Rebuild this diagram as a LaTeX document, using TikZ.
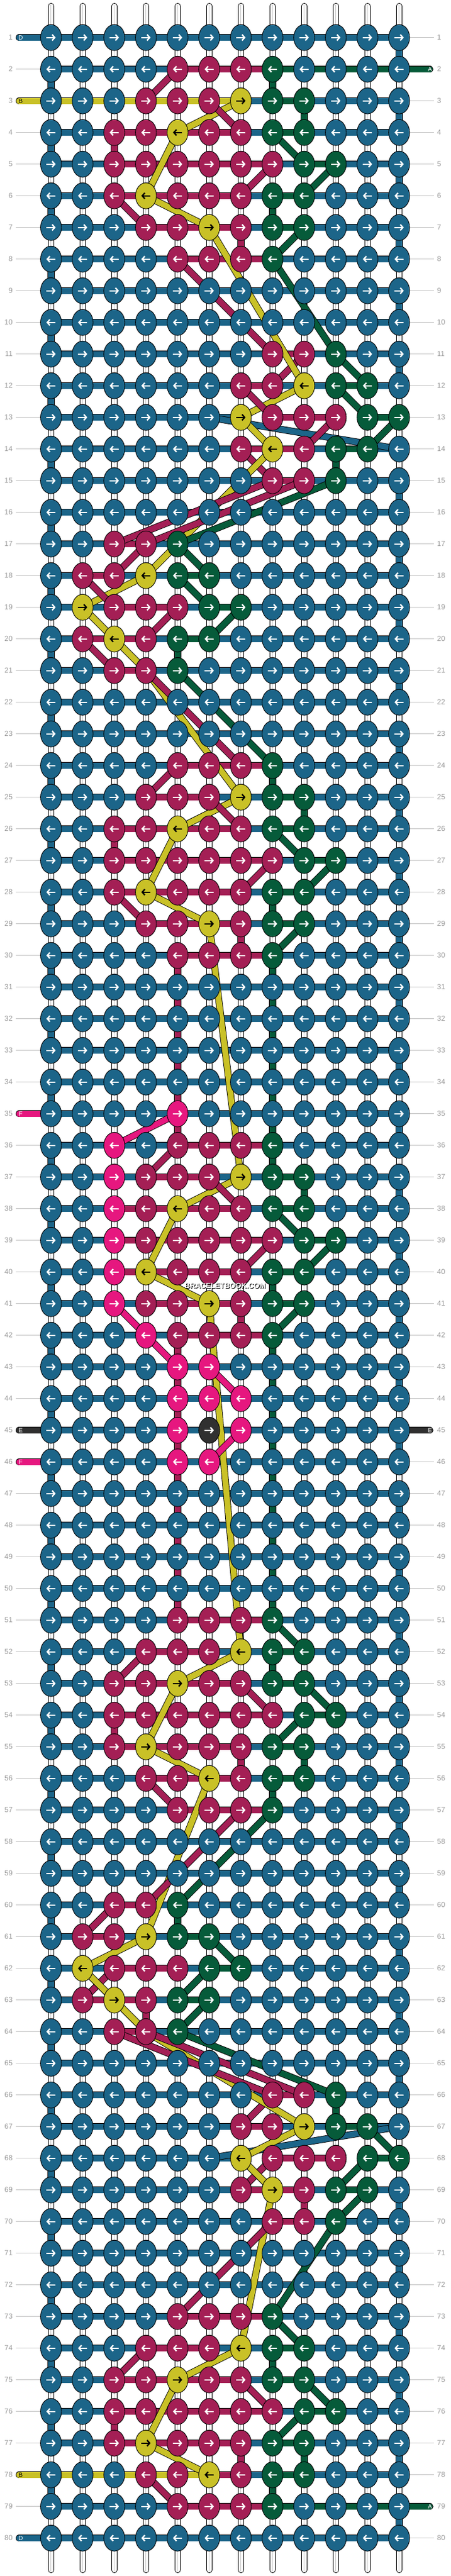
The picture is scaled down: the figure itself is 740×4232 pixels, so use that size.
\documentclass[tikz,border=0pt]{standalone}
\usepackage{fontspec}
\setmainfont{Liberation Sans}
\usetikzlibrary{shapes.geometric,arrows.meta}
\definecolor{cb}{HTML}{1C6589}
\definecolor{cm}{HTML}{A41F55}
\definecolor{cy}{HTML}{C9C127}
\definecolor{cg}{HTML}{065B3A}
\definecolor{cp}{HTML}{E6177F}
\definecolor{ck}{HTML}{303030}
\definecolor{labgray}{HTML}{9A9A9A}
\definecolor{linegray}{HTML}{C2C2C2}
\definecolor{strgray}{HTML}{C8C8C8}
\pgfdeclarelayer{bg}
\pgfdeclarelayer{mid}
\pgfsetlayers{bg,mid,main}

\newcommand\setrow[3]{\expandafter\def\csname rowk#1\endcsname{#2}\expandafter\def\csname rows#1\endcsname{#3}}
\newcommand\copyrow[2]{\expandafter\let\csname rowk#1\expandafter\endcsname\csname rowk#2\endcsname\expandafter\let\csname rows#1\expandafter\endcsname\csname rows#2\endcsname}

% ---- knot colours (12) / horizontal segment colours (11) per row ----
\setrow{1}{bbbbbbbbbbbb}{bbbbbbbbbbb}
\setrow{2}{bbbbmmmgbbbb}{bbbbmmmgggg}
\setrow{3}{bbbmmmyggbbb}{yyyyyybgbbb}
\setrow{4}{bbmmymmggbbb}{bbmmmmbgbbb}
\setrow{5}{bbmmmmmmggbb}{bbmmmmmbgbb}
\setrow{6}{bbmymmmggbbb}{bbmmmmbgbbb}
\setrow{7}{bbbmmymggbbb}{bbbmmmbgbbb}
\setrow{8}{bbbbmmmgbbbb}{bbbbmmmbbbb}
\setrow{9}{bbbbbbbbbbbb}{bbbbbbbbbbb}
\copyrow{10}{9}
\setrow{11}{bbbbbbbmmgbb}{bbbbbbbmbbb}
\setrow{12}{bbbbbbmmyggb}{bbbbbbmbbgb}
\setrow{13}{bbbbbbymmmgg}{bbbbbbnmmng}
\setrow{14}{bbbbbbmymggb}{bbbbbbmmbgb}
\setrow{15}{bbbbbbbmmgbb}{bbbbbbbmbbb}
\copyrow{16}{9}
\setrow{17}{bbmmgbbbbbbb}{bbmbbbbbbbb}
\setrow{18}{bmmyggbbbbbb}{bmbbgbbbbbb}
\setrow{19}{bymmmggbbbbb}{bbmmbgbbbbb}
\setrow{20}{bmymggbbbbbb}{bmmbgbbbbbb}
\setrow{21}{bbmmgbbbbbbb}{bbmbbbbbbbb}
\copyrow{22}{9}
\copyrow{23}{9}
\setrow{24}{bbbbmmmgbbbb}{bbbbmmmbbbb}
\setrow{25}{bbbmmmyggbbb}{bbbmmbbgbbb}
\setrow{26}{bbmmymmggbbb}{bbmmmmbgbbb}
\setrow{27}{bbmmmmmmggbb}{bbmmmmmbgbb}
\setrow{28}{bbmymmmggbbb}{bbmmmmbgbbb}
\setrow{29}{bbbmmymggbbb}{bbbmmmbgbbb}
\setrow{30}{bbbbmmmgbbbb}{bbbbmmmbbbb}
\copyrow{31}{9}
\copyrow{32}{9}
\copyrow{33}{9}
\copyrow{34}{9}
\setrow{35}{bbbbpbbbbbbb}{bbbbbbbbbbb}
\setrow{36}{bbpbmmmgbbbb}{bbbbmmmbbbb}
\setrow{37}{bbpmmmyggbbb}{bbbmmbbgbbb}
\setrow{38}{bbpmymmggbbb}{bbmmmmbgbbb}
\setrow{39}{bbpmmmmmggbb}{bbmmmmmbgbb}
\setrow{40}{bbpymmmggbbb}{bbmmmmbgbbb}
\setrow{41}{bbpmmymggbbb}{bbbmmmbgbbb}
\setrow{42}{bbbpmmmgbbbb}{bbbbmmmbbbb}
\setrow{43}{bbbbppbbbbbb}{bbbbbbbbbbb}
\setrow{44}{bbbbpppbbbbb}{bbbbbbbbbbb}
\setrow{45}{bbbbpkpbbbbb}{bbbbbbbbbbb}
\setrow{46}{bbbbppbbbbbb}{bbbbbbbbbbb}
\copyrow{47}{9}
\copyrow{48}{9}
\copyrow{49}{9}
\copyrow{50}{9}
\copyrow{51}{24}
\copyrow{52}{25}
\copyrow{53}{26}
\copyrow{54}{27}
\copyrow{55}{28}
\copyrow{56}{29}
\copyrow{57}{30}
\copyrow{58}{9}
\copyrow{59}{9}
\copyrow{60}{17}
\copyrow{61}{18}
\copyrow{62}{19}
\copyrow{63}{20}
\copyrow{64}{21}
\copyrow{65}{9}
\copyrow{66}{11}
\copyrow{67}{12}
\copyrow{68}{13}
\copyrow{69}{14}
\copyrow{70}{15}
\copyrow{71}{9}
\copyrow{72}{9}
\copyrow{73}{24}
\copyrow{74}{25}
\copyrow{75}{26}
\copyrow{76}{27}
\setrow{77}{bbmymmmggbbb}{bbmmmmbgbbb}
\setrow{78}{bbbmmymggbbb}{yyyyymbgbbb}
\setrow{79}{bbbbmmmgbbbb}{bbbbmmmgggg}
\copyrow{80}{9}

\newcount\cidx
\def\currow{1}
\def\knotiter#1{\ifx#1\relax\else\global\advance\cidx by 1\relax\drawknot{#1}\expandafter\knotiter\fi}
\def\drawknot#1{%
  \edef\cc{\the\cidx}%
  \pgfmathsetmacro\kx{83.8+52*(\cc-1)}%
  \node[knot,fill=c#1] (k-\currow-\cc) at (\kx,\ky) {};%
  \if#1y\def\arcol{black}\else\def\arcol{white}\fi
  \ifodd\currow\relax
    \draw[arr,draw=\arcol] (\kx-7.6,\ky) -- (\kx+7.6,\ky);%
  \else
    \draw[arr,draw=\arcol] (\kx+7.6,\ky) -- (\kx-7.6,\ky);%
  \fi}
\def\segiter#1{\ifx#1\relax\else\global\advance\cidx by 1\relax\drawseg{#1}\expandafter\segiter\fi}
\def\drawseg#1{\if#1n\else\edef\ca{\the\cidx}\pgfmathtruncatemacro\cbb{\the\cidx+1}\draw[seg=c#1] (k-\currow-\ca.center) -- (k-\currow-\cbb.center);\fi}
\newcommand\diag[5]{\draw[seg=c#1] (k-#2-#3.center) -- (k-#4-#5.center);}
\newcommand\diagoff[6]{\pgfmathtruncatemacro\ra{#3+#1}\pgfmathtruncatemacro\rb{#5+#1}\draw[seg=c#2] (k-\ra-#4.center) -- (k-\rb-#6.center);}
\newcommand\vseg[3]{\pgfmathtruncatemacro\rn{#2+1}\draw[seg=c#1] (k-#2-#3.center) -- (k-\rn-#3.center);}
\newcommand\vsegoff[4]{\pgfmathtruncatemacro\ra{#3+#1}\vseg{#2}{\ra}{#4}}

\begin{document}
\begin{tikzpicture}[x=1pt,y=-1pt,
  knot/.style={ellipse,draw=black,line width=0.9pt,minimum width=34.4pt,minimum height=42.8pt,inner sep=0pt,outer sep=0pt},
  arr/.style={line width=2.3pt,-{Straight Barb[length=4.2pt,width=9.6pt]}},
  seg/.style={draw=black,line width=0.9pt,double=#1,double distance=9.6pt},
  stub/.style={draw=black,line width=0.9pt,double=#1,double distance=9.6pt,line cap=round},
  rowlab/.style={text=labgray,font=\fontsize{12}{12}\selectfont,inner sep=0pt},
  stublab/.style={font=\fontsize{10}{10}\selectfont,inner sep=0pt}]
\useasboundingbox (0,0) rectangle (740,4232);
% knots
\foreach \r in {1,...,80}{%
  \pgfmathsetmacro\ky{61.7+52*(\r-1)}%
  \xdef\currow{\r}%
  \global\cidx=0\relax
  \edef\kstr{\csname rowk\r\endcsname}%
  \expandafter\knotiter\kstr\relax
}
\begin{pgfonlayer}{bg}
% white strings
\foreach \c in {1,...,12}{%
  \pgfmathsetmacro\vx{83.8+52*(\c-1)}%
  \draw[line width=10.2pt,line cap=round,black] (\vx,10) -- (\vx,4222);
  \draw[line width=8.4pt,line cap=round,white] (\vx,10) -- (\vx,4222);
  \draw[line width=0.7pt,strgray] (\vx,8) -- (\vx,4224);
}
% row labels
\foreach \r in {1,...,80}{%
  \pgfmathsetmacro\ky{61.7+52*(\r-1)}%
  \draw[linegray,line width=0.8pt] (26,\ky) -- (67,\ky);
  \draw[linegray,line width=0.8pt] (673,\ky) -- (713,\ky);
  \node[rowlab,anchor=east] (nl-\r) at (21,\ky) {\r};
  \node[rowlab,anchor=west] (nr-\r) at (718,\ky) {\r};
}
% horizontal segments
\foreach \r in {1,...,80}{%
  \xdef\currow{\r}%
  \global\cidx=0\relax
  \edef\sstr{\csname rows\r\endcsname}%
  \expandafter\segiter\sstr\relax
}
% turning thread D at the edges
\foreach \r in {1,...,12,14,15,...,66,68,69,...,79}{%
  \ifodd\r\relax\vseg{b}{\r}{12}\else\vseg{b}{\r}{1}\fi
}
% coloured vertical segments: upper diamonds
\foreach \o in {0,22}{%
  \vsegoff{\o}{g}{2}{8}\vsegoff{\o}{g}{3}{9}\vsegoff{\o}{m}{4}{3}\vsegoff{\o}{g}{6}{8}\vsegoff{\o}{m}{7}{7}}
% centre diamond
\foreach \cl/\r/\c in {g/36/8,g/37/9,g/40/8,m/41/7,g/14/10,g/20/5}{\vseg{\cl}{\r}{\c}}
% long straight runs
\foreach \r in {30,...,35,42,43,...,50}{\vseg{m}{\r}{5}\vseg{g}{\r}{8}}
% lower diamonds (mirrored)
\foreach \o in {51,73}{%
  \vsegoff{\o}{g}{5}{8}\vsegoff{\o}{g}{4}{9}\vsegoff{\o}{m}{3}{3}\vsegoff{\o}{g}{1}{8}\vsegoff{\o}{m}{4}{7}}
\vseg{g}{60}{5}\vseg{m}{63}{4}
\vseg{g}{66}{10}\vseg{m}{69}{9}
% thread ends
\foreach \r/\cl/\lt/\tc in {1/b/D/white,3/y/B/black,80/b/D/white,78/y/B/black,35/p/F/white,45/k/E/white,46/p/F/white}{%
  \pgfmathsetmacro\ky{61.7+52*(\r-1)}%
  \coordinate (sl-\r) at (31.5,\ky);
  \draw[stub=c\cl] (sl-\r) -- (k-\r-1.center);
  \node[stublab,text=\tc] (tl-\r) at (34,\ky) {\lt};
}
\foreach \r/\cl/\lt/\tc in {2/g/A/white,79/g/A/white,45/k/E/white}{%
  \pgfmathsetmacro\ky{61.7+52*(\r-1)}%
  \coordinate (sr-\r) at (706,\ky);
  \draw[stub=c\cl] (k-\r-12.center) -- (sr-\r);
  \node[stublab,text=\tc] (tr-\r) at (706.5,\ky) {\lt};
}
\end{pgfonlayer}
\begin{pgfonlayer}{mid}
% upper diamond motifs and centre diamond
\foreach \o in {0,22,34}{%
  \diagoff{\o}{m}{2}{5}{3}{4}
  \diagoff{\o}{y}{3}{7}{4}{5}
  \diagoff{\o}{m}{3}{6}{4}{7}
  \diagoff{\o}{g}{4}{8}{5}{9}
  \diagoff{\o}{y}{4}{5}{6}{4}
  \diagoff{\o}{m}{5}{8}{6}{7}
  \diagoff{\o}{g}{5}{10}{6}{9}
  \diagoff{\o}{y}{6}{4}{7}{6}
  \diagoff{\o}{g}{7}{9}{8}{8}
}
\diag{m}{6}{3}{7}{4}
\diag{m}{28}{3}{29}{4}
% lower diamond motifs (mirrored threads)
\foreach \o in {51,73}{%
  \diagoff{\o}{m}{6}{5}{5}{4}
  \diagoff{\o}{g}{4}{8}{3}{9}
  \diagoff{\o}{m}{3}{8}{2}{7}
  \diagoff{\o}{g}{3}{10}{2}{9}
  \diagoff{\o}{m}{2}{3}{1}{4}
  \diagoff{\o}{g}{1}{9}{0}{8}
  \diagoff{\o}{y}{1}{7}{2}{5}
  \diagoff{\o}{y}{2}{5}{4}{4}
  \diagoff{\o}{y}{4}{4}{5}{6}
}
% upper right motif
\diag{m}{11}{9}{12}{8}
\diag{g}{11}{10}{12}{11}
\diag{y}{12}{9}{13}{7}
\diag{m}{12}{7}{13}{8}
\diag{g}{12}{10}{13}{11}
\diag{b}{13}{6}{14}{12}
\diag{m}{13}{10}{14}{9}
\diag{g}{13}{12}{14}{11}
\diag{y}{13}{7}{14}{8}
\diag{m}{14}{7}{15}{8}
% lower right motif
\diagoff{66}{g}{4}{10}{3}{11}
\diagoff{66}{m}{3}{7}{2}{8}
\diagoff{66}{g}{3}{10}{2}{11}
\diagoff{66}{b}{2}{6}{1}{12}
\diagoff{66}{g}{2}{12}{1}{11}
\diagoff{66}{m}{1}{7}{0}{8}
\diagoff{66}{y}{1}{9}{2}{7}
\diagoff{66}{y}{2}{7}{3}{8}
% upper left motif
\diag{g}{17}{5}{18}{6}
\diag{m}{17}{4}{18}{3}
\diag{y}{18}{4}{19}{2}
\diag{m}{18}{2}{19}{3}
\diag{g}{18}{5}{19}{6}
\diag{m}{19}{5}{20}{4}
\diag{g}{19}{7}{20}{6}
\diag{y}{19}{2}{20}{3}
\diag{m}{20}{2}{21}{3}
\diag{y}{20}{3}{21}{4}
% lower left motif
\diagoff{60}{g}{4}{5}{3}{6}
\diagoff{60}{m}{3}{2}{2}{3}
\diagoff{60}{g}{3}{5}{2}{6}
\diagoff{60}{g}{2}{7}{1}{6}
\diagoff{60}{m}{1}{2}{0}{3}
\diagoff{60}{y}{1}{4}{2}{2}
\diagoff{60}{y}{2}{2}{3}{3}
\diagoff{60}{y}{3}{3}{4}{4}
% links between motifs
\diag{y}{7}{6}{12}{9}
\diag{m}{8}{5}{11}{8}
\diag{g}{8}{8}{11}{10}
\diag{y}{14}{8}{18}{4}
\diag{m}{15}{8}{17}{3}
\diag{m}{15}{9}{17}{4}
\diag{g}{15}{10}{17}{5}
\diag{y}{21}{4}{25}{7}
\diag{m}{21}{4}{24}{7}
\diag{g}{21}{5}{24}{8}
\diag{y}{29}{6}{37}{7}
\diag{y}{41}{6}{52}{7}
\diag{y}{56}{6}{61}{4}
\diag{m}{57}{7}{60}{4}
\diag{g}{57}{8}{60}{5}
\diag{y}{64}{4}{67}{9}
\diag{m}{64}{3}{66}{8}
\diag{m}{64}{4}{66}{9}
\diag{g}{64}{5}{66}{10}
\diag{y}{69}{8}{74}{7}
\diag{m}{70}{8}{73}{5}
\diag{g}{70}{10}{73}{8}
% pink thread
\diag{p}{35}{5}{36}{3}
\diag{p}{41}{3}{42}{4}
\diag{p}{42}{4}{43}{5}
\diag{p}{43}{6}{44}{7}
\diag{p}{45}{7}{46}{6}
\end{pgfonlayer}
\node[font=\bfseries\fontsize{12}{12}\selectfont,text=black,inner sep=0pt] (wms) at (371,2113) {BRACELETBOOK.COM};
\node[font=\bfseries\fontsize{12}{12}\selectfont,text=white,inner sep=0pt] (wm) at (370,2112) {BRACELETBOOK.COM};
\end{tikzpicture}
\end{document}
